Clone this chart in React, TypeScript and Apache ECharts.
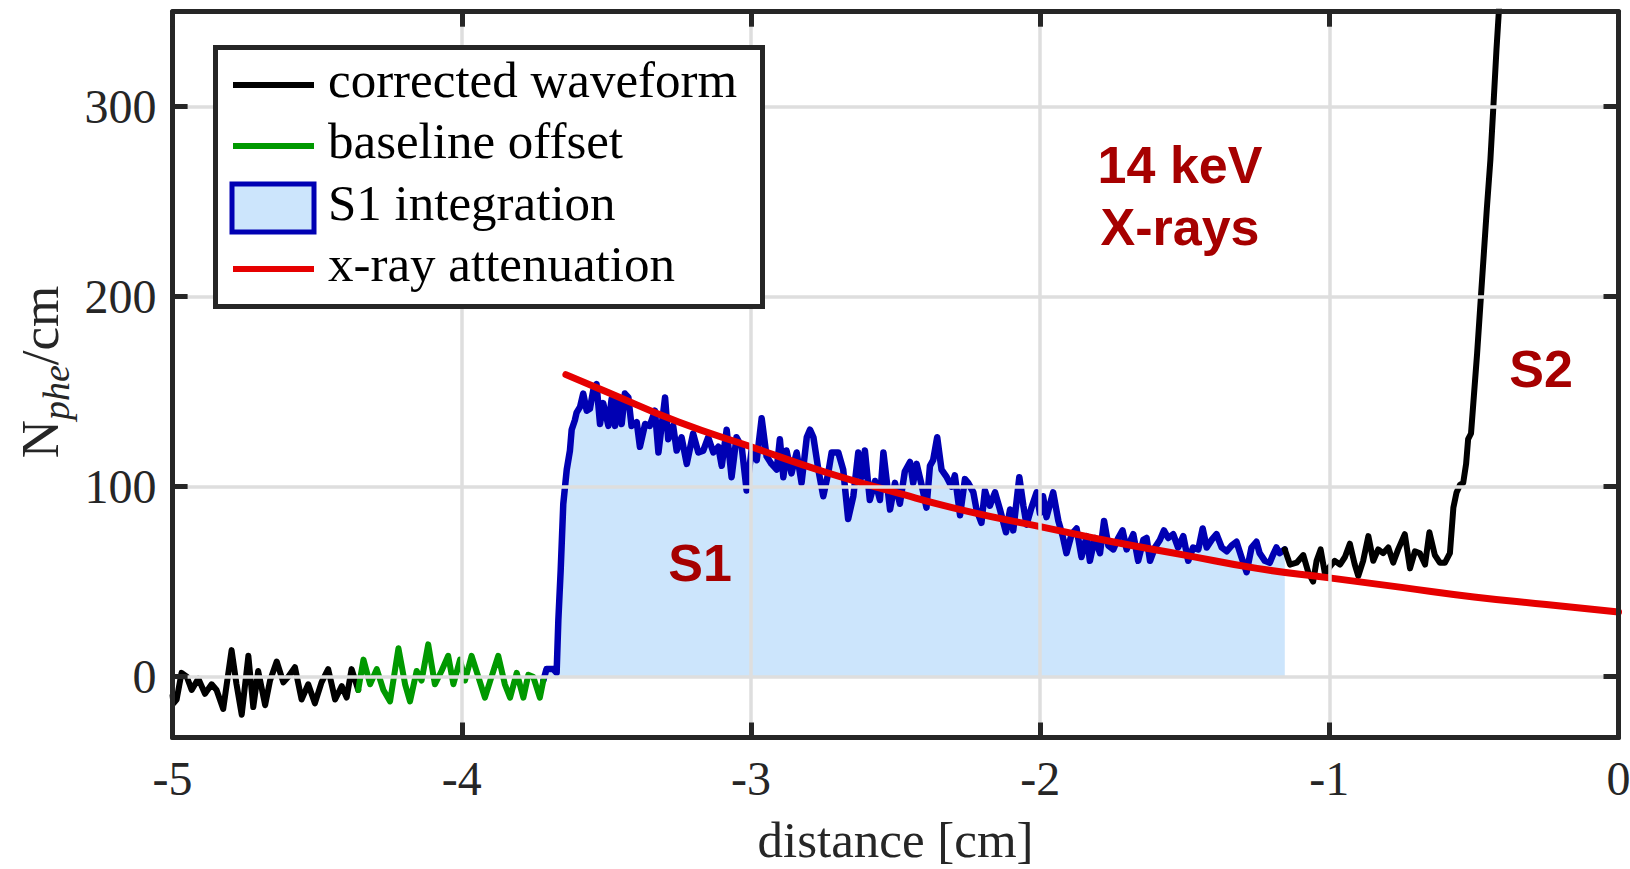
import React, { useEffect, useRef } from "react";
import * as echarts from "echarts";

// ---------------- data ----------------
const xTickValues = [-5, -4, -3, -2, -1, 0];
const yTickValues = [0, 100, 200, 300];
const legendLabels = ["corrected waveform", "baseline offset", "S1 integration", "x-ray attenuation"];
const annotationTexts = ["14 keV", "X-rays", "S1", "S2"];

// corrected waveform before the baseline window
const waveformPre: [number, number][] = [
  [-5.0, -10], [-4.997, -14], [-4.986, -12], [-4.969, 2], [-4.951, 0], [-4.934, -7], [-4.911, -1],
  [-4.888, -9], [-4.865, -4], [-4.848, -7], [-4.825, -17], [-4.796, 14], [-4.779, -4], [-4.761, -20],
  [-4.738, 11], [-4.721, -16], [-4.704, 3], [-4.68, -15], [-4.663, -2], [-4.64, 8], [-4.617, -3],
  [-4.6, 0], [-4.577, 5], [-4.554, -12], [-4.531, -4], [-4.508, -14], [-4.485, -3], [-4.462, 4],
  [-4.438, -12], [-4.415, -5], [-4.398, -11], [-4.381, 4], [-4.358, -7],
];

// baseline offset window
const baselineOffset: [number, number][] = [
  [-4.358, -7], [-4.34, 9], [-4.317, -4], [-4.294, 4], [-4.271, -7], [-4.248, -13], [-4.219, 15],
  [-4.196, -4], [-4.179, -13], [-4.156, 3], [-4.139, -2], [-4.116, 17], [-4.093, -4], [-4.07, 3],
  [-4.047, 11], [-4.029, -4], [-4.006, 9], [-3.989, -2], [-3.966, 11], [-3.943, 0], [-3.92, -11],
  [-3.897, 0], [-3.874, 11], [-3.851, -4], [-3.833, -11], [-3.81, 2], [-3.787, -11], [-3.77, 1],
  [-3.753, 0], [-3.73, -11], [-3.718, -2],
];

// S1 integration window
const s1Integration: [number, number][] = [
  [-3.718, -2], [-3.707, 4], [-3.684, 4], [-3.672, 2], [-3.666, 30], [-3.658, 56], [-3.649, 91],
  [-3.637, 109], [-3.626, 119], [-3.62, 130], [-3.609, 135], [-3.603, 139], [-3.591, 142], [-3.58, 149],
  [-3.568, 140], [-3.557, 141], [-3.545, 151], [-3.534, 154], [-3.522, 133], [-3.511, 144], [-3.493, 132],
  [-3.482, 146], [-3.47, 132], [-3.459, 147], [-3.447, 133], [-3.436, 149], [-3.424, 147], [-3.413, 132],
  [-3.395, 134], [-3.384, 121], [-3.366, 133], [-3.35, 132], [-3.332, 140], [-3.32, 118], [-3.297, 147],
  [-3.286, 125], [-3.269, 132], [-3.257, 119], [-3.24, 126], [-3.222, 112], [-3.2, 128], [-3.182, 118],
  [-3.165, 119], [-3.148, 126], [-3.13, 118], [-3.113, 121], [-3.101, 111], [-3.084, 130], [-3.067, 105],
  [-3.05, 126], [-3.032, 121], [-3.015, 98], [-2.998, 119], [-2.98, 114], [-2.963, 136], [-2.946, 116],
  [-2.929, 112], [-2.911, 109], [-2.9, 125], [-2.888, 105], [-2.877, 119], [-2.86, 107], [-2.842, 118],
  [-2.825, 102], [-2.807, 126], [-2.796, 130], [-2.784, 126], [-2.767, 109], [-2.75, 95], [-2.733, 107],
  [-2.721, 118], [-2.698, 118], [-2.681, 109], [-2.664, 83], [-2.646, 95], [-2.629, 118], [-2.617, 105],
  [-2.606, 119], [-2.589, 93], [-2.571, 103], [-2.554, 93], [-2.542, 118], [-2.519, 88], [-2.502, 102],
  [-2.485, 91], [-2.468, 108], [-2.45, 113], [-2.439, 102], [-2.427, 112], [-2.41, 101], [-2.393, 89],
  [-2.381, 111], [-2.37, 114], [-2.356, 126], [-2.341, 109], [-2.323, 105], [-2.306, 100], [-2.295, 106],
  [-2.277, 85], [-2.26, 104], [-2.249, 102], [-2.231, 97], [-2.22, 88], [-2.203, 81], [-2.191, 98],
  [-2.174, 90], [-2.156, 97], [-2.139, 88], [-2.118, 76], [-2.104, 88], [-2.093, 77], [-2.072, 105],
  [-2.058, 90], [-2.047, 80], [-2.03, 89], [-2.012, 97], [-2.001, 86], [-1.99, 95], [-1.978, 84],
  [-1.955, 97], [-1.937, 82], [-1.922, 74], [-1.909, 65], [-1.891, 75], [-1.874, 78], [-1.857, 63],
  [-1.839, 74], [-1.828, 61], [-1.811, 73], [-1.793, 65], [-1.779, 82], [-1.764, 69], [-1.747, 67],
  [-1.73, 73], [-1.715, 77], [-1.701, 67], [-1.678, 75], [-1.661, 61], [-1.643, 72], [-1.632, 73],
  [-1.62, 61], [-1.603, 68], [-1.586, 72], [-1.572, 77], [-1.557, 73], [-1.54, 75], [-1.523, 68],
  [-1.505, 74], [-1.488, 61], [-1.471, 68], [-1.453, 67], [-1.438, 78], [-1.424, 68], [-1.407, 72],
  [-1.39, 75], [-1.372, 68], [-1.355, 66], [-1.338, 69], [-1.321, 71], [-1.304, 63], [-1.286, 55],
  [-1.269, 68], [-1.252, 71], [-1.241, 65], [-1.223, 61], [-1.206, 60], [-1.195, 64], [-1.183, 68],
  [-1.172, 65], [-1.154, 67],
];

// corrected waveform after S1, rising into S2
const waveformPost: [number, number][] = [
  [-1.154, 67], [-1.136, 59], [-1.113, 60], [-1.09, 64], [-1.073, 55], [-1.056, 50], [-1.044, 61],
  [-1.03, 67], [-1.015, 54], [-0.998, 58], [-0.981, 61], [-0.963, 59], [-0.946, 63], [-0.929, 70],
  [-0.912, 59], [-0.9, 53], [-0.883, 61], [-0.865, 74], [-0.848, 61], [-0.831, 67], [-0.814, 65],
  [-0.796, 68], [-0.779, 60], [-0.762, 67], [-0.739, 75], [-0.721, 57], [-0.704, 66], [-0.687, 65],
  [-0.669, 59], [-0.654, 76], [-0.635, 64], [-0.618, 60], [-0.6, 60], [-0.583, 65], [-0.571, 89],
  [-0.56, 97], [-0.548, 101], [-0.537, 102], [-0.527, 112], [-0.52, 125], [-0.51, 128], [-0.5, 148],
  [-0.489, 170], [-0.478, 195], [-0.466, 222], [-0.455, 247], [-0.443, 272], [-0.432, 302],
  [-0.422, 330], [-0.413, 352], [-0.405, 375],
];

// x-ray attenuation curve
const attenuation: [number, number][] = [
  [-3.64, 159], [-3.5, 150], [-3.25, 134], [-3.0, 121], [-2.75, 108], [-2.5, 97], [-2.25, 87],
  [-2.0, 79], [-1.75, 71], [-1.5, 64], [-1.25, 57], [-1.0, 52], [-0.75, 47], [-0.5, 42],
  [-0.25, 38], [0, 34],
];

// ---------------- styling ----------------
const AXIS = "#262626";
const GRID = "#dedede";
const BLACK = "#000000";
const GREEN = "#009900";
const BLUE = "#0000b3";
const FILL = "#cce5fc";
const RED = "#e60000";
const DARKRED = "#a60000";
const SERIF = "'Liberation Serif', 'Times New Roman', serif";
const SANS = "'Liberation Sans', Arial, sans-serif";

const lineSeries = (name: string, data: [number, number][], color: string, width: number, extra: any = {}) => ({
  type: "line",
  name,
  data,
  symbol: "none",
  showSymbol: false,
  clip: true,
  lineStyle: { color, width, cap: "round", join: "round" },
  itemStyle: { color },
  emphasis: { disabled: true },
  ...extra,
});

export default function App() {
  const ref = useRef<HTMLDivElement>(null);

  useEffect(() => {
    if (!ref.current) return;
    const chart = echarts.init(ref.current, undefined, { renderer: "svg" });

    const legendRows = [85, 146, 208, 269];
    const legendGraphics: any[] = [
      {
        type: "rect",
        shape: { x: 215.5, y: 47.5, width: 547, height: 259 },
        style: { fill: "#ffffff", stroke: AXIS, lineWidth: 5 },
        z: 100,
      },
      { type: "line", shape: { x1: 233, y1: legendRows[0], x2: 314, y2: legendRows[0] }, style: { stroke: BLACK, lineWidth: 6 }, z: 101 },
      { type: "line", shape: { x1: 233, y1: legendRows[1], x2: 314, y2: legendRows[1] }, style: { stroke: GREEN, lineWidth: 6 }, z: 101 },
      {
        type: "rect",
        shape: { x: 232, y: legendRows[2] - 24, width: 82, height: 48 },
        style: { fill: FILL, stroke: BLUE, lineWidth: 5 },
        z: 101,
      },
      { type: "line", shape: { x1: 233, y1: legendRows[3], x2: 314, y2: legendRows[3] }, style: { stroke: RED, lineWidth: 6 }, z: 101 },
      ...legendLabels.map((t, i) => ({
        type: "text",
        x: 328,
        y: legendRows[i] - 5,
        style: { text: t, fill: "#000000", fontFamily: SERIF, fontSize: 51, align: "left", verticalAlign: "middle" },
        z: 102,
      })),
    ];

    const annotationGraphics: any[] = [
      { text: annotationTexts[0], x: 1180, y: 165 },
      { text: annotationTexts[1], x: 1180, y: 227 },
      { text: annotationTexts[2], x: 700, y: 563 },
      { text: annotationTexts[3], x: 1541, y: 369 },
    ].map((a) => ({
      type: "text",
      x: a.x,
      y: a.y,
      style: {
        text: a.text,
        fill: DARKRED,
        fontFamily: SANS,
        fontWeight: "bold",
        fontSize: 52,
        align: "center",
        verticalAlign: "middle",
      },
      z: 90,
    }));

    const yNameGraphic = {
      type: "text",
      x: 44,
      y: 372,
      rotation: Math.PI / 2,
      style: {
        text: "{n|N}{s|phe}{n|/cm}",
        align: "center",
        verticalAlign: "middle",
        fill: AXIS,
        rich: {
          n: { fontFamily: SERIF, fontSize: 53, lineHeight: 52, verticalAlign: "top", fill: AXIS },
          s: { fontFamily: SERIF, fontSize: 38, fontStyle: "italic", lineHeight: 62, verticalAlign: "bottom", fill: AXIS },
        },
      },
      z: 90,
    };

    const tickStyle = { color: AXIS, width: 5 };
    const axisLineStyle = { color: AXIS, width: 5 };
    const option: any = {
      animation: false,
      backgroundColor: "#ffffff",
      grid: { left: 172.6, right: 11.5, top: 11.7, bottom: 131.5, containLabel: false, outerBoundsMode: "none" },
      xAxis: [
        {
          type: "value",
          min: -5,
          max: 0,
          interval: 1,
          position: "bottom",
          axisLine: { show: true, onZero: false, lineStyle: axisLineStyle },
          axisTick: { show: true, inside: true, length: 15, lineStyle: tickStyle },
          axisLabel: {
            show: true,
            margin: 17,
            color: AXIS,
            fontFamily: SERIF,
            fontSize: 48,
            showMinLabel: true,
            showMaxLabel: true,
            customValues: xTickValues,
          },
          splitLine: { show: true, lineStyle: { color: GRID, width: 3.5 } },
          name: "distance [cm]",
          nameLocation: "middle",
          nameGap: 77,
          nameTextStyle: { color: AXIS, fontFamily: SERIF, fontSize: 51 },
          z: 10,
        },
        {
          type: "value",
          min: -5,
          max: 0,
          interval: 1,
          position: "top",
          axisLine: { show: true, onZero: false, lineStyle: axisLineStyle },
          axisTick: { show: true, inside: true, length: 15, lineStyle: tickStyle },
          axisLabel: { show: false },
          splitLine: { show: false },
          z: 10,
        },
      ],
      yAxis: [
        {
          type: "value",
          min: -32,
          max: 350,
          position: "left",
          axisLine: { show: true, onZero: false, lineStyle: axisLineStyle },
          axisTick: { show: true, inside: true, length: 15, lineStyle: tickStyle, customValues: yTickValues },
          axisLabel: {
            show: true,
            margin: 16,
            color: AXIS,
            fontFamily: SERIF,
            fontSize: 48,
            customValues: yTickValues,
          },
          splitLine: { show: true, lineStyle: { color: GRID, width: 3.5 } },
          z: 10,
        },
        {
          type: "value",
          min: -32,
          max: 350,
          position: "right",
          axisLine: { show: true, onZero: false, lineStyle: axisLineStyle },
          axisTick: { show: true, inside: true, length: 15, lineStyle: tickStyle, customValues: yTickValues },
          axisLabel: { show: false, customValues: yTickValues },
          splitLine: { show: false },
          z: 10,
        },
      ],
      series: [
        lineSeries(legendLabels[2], s1Integration, BLUE, 6.5, {
          areaStyle: { color: FILL, opacity: 1, origin: 0 },
          z: 2,
        }),
        lineSeries(legendLabels[0], waveformPre, BLACK, 6, { z: 3 }),
        lineSeries(legendLabels[1], baselineOffset, GREEN, 6, { z: 3 }),
        lineSeries(legendLabels[0], waveformPost, BLACK, 6, { z: 3 }),
        lineSeries(legendLabels[3], attenuation, RED, 7, { smooth: true, z: 4 }),
      ],
      graphic: [...annotationGraphics, yNameGraphic, ...legendGraphics],
    };

    chart.setOption(option);
    return () => chart.dispose();
  }, []);

  return (
    <div
      ref={ref}
      style={{ position: "absolute", left: 0, top: 0, width: 1630, height: 869, background: "#ffffff" }}
    />
  );
}
